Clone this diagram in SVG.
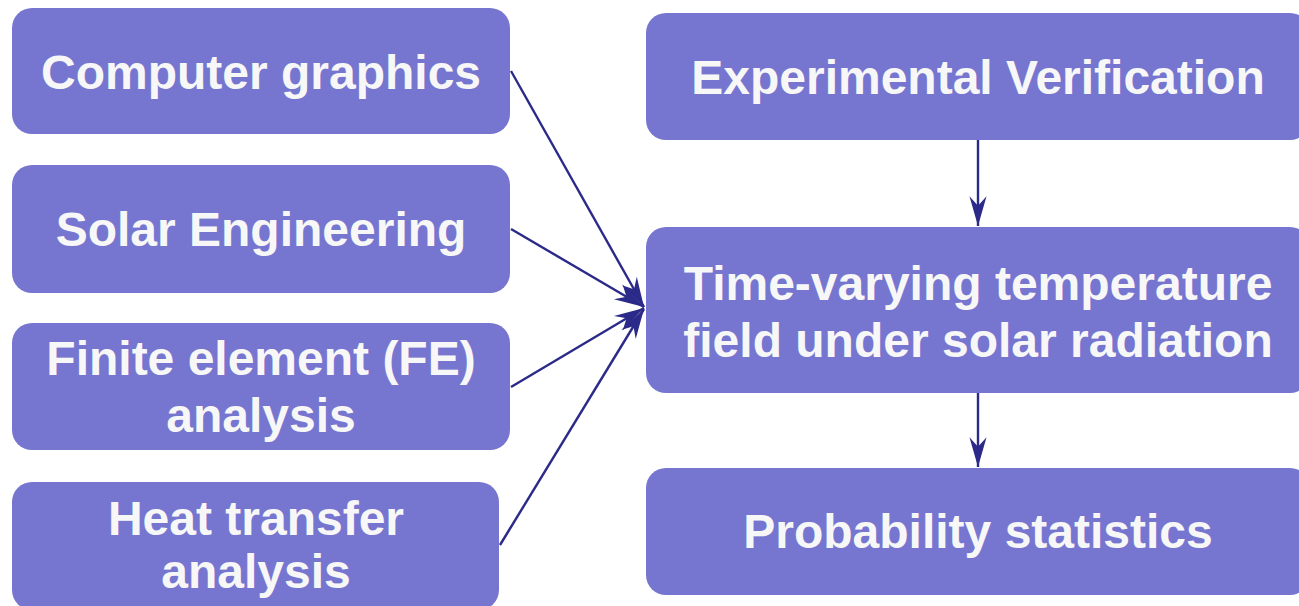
<svg xmlns="http://www.w3.org/2000/svg" width="1299" height="606" viewBox="0 0 1299 606">
  <style>
    .box { fill: #7676D0; }
    .lbl { font-family: "Liberation Sans", Arial, sans-serif; font-weight: bold; font-size: 48px; fill: #F7F7F7; text-anchor: middle; }
    .link { stroke: #2B2A88; stroke-width: 2.4; fill: none; marker-end: url(#head); }
  </style>
  <defs>
    <marker id="head" markerUnits="userSpaceOnUse" markerWidth="32" markerHeight="22" viewBox="-29 -9 30 18" refX="0" refY="0" orient="auto">
      <path d="M0,0 L-28,-8 L-19,0 L-28,8 Z" fill="#2B2A88"/>
    </marker>
  </defs>
  <rect width="1299" height="606" fill="#FFFFFF"/>

  <g id="connectors">
    <line class="link" x1="511" y1="71" x2="644" y2="307"/>
    <line class="link" x1="511" y1="229" x2="644" y2="307"/>
    <line class="link" x1="511" y1="387" x2="644" y2="308"/>
    <line class="link" x1="500" y1="545" x2="644" y2="309"/>
    <line class="link" x1="978" y1="140" x2="978" y2="226"/>
    <line class="link" x1="978" y1="393" x2="978" y2="467"/>
  </g>

  <g id="computer-graphics">
    <rect class="box" x="12" y="8" width="498" height="126" rx="20"/>
    <text class="lbl" x="261" y="89">Computer graphics</text>
  </g>
  <g id="solar-engineering">
    <rect class="box" x="12" y="165" width="498" height="128" rx="20"/>
    <text class="lbl" x="261" y="246">Solar Engineering</text>
  </g>
  <g id="fe-analysis">
    <rect class="box" x="12" y="323" width="498" height="127" rx="20"/>
    <text class="lbl" x="261" y="375">Finite element (FE)</text>
    <text class="lbl" x="261" y="432">analysis</text>
  </g>
  <g id="heat-transfer">
    <rect class="box" x="12" y="482" width="487" height="128" rx="20"/>
    <text class="lbl" x="256" y="535">Heat transfer</text>
    <text class="lbl" x="256" y="588">analysis</text>
  </g>

  <g id="experimental-verification">
    <rect class="box" x="646" y="13" width="664" height="127" rx="20"/>
    <text class="lbl" x="978" y="94">Experimental Verification</text>
  </g>
  <g id="temperature-field">
    <rect class="box" x="646" y="227" width="664" height="166" rx="20"/>
    <text class="lbl" x="978" y="300">Time-varying temperature</text>
    <text class="lbl" x="978" y="357">field under solar radiation</text>
  </g>
  <g id="probability-statistics">
    <rect class="box" x="646" y="468" width="664" height="127" rx="20"/>
    <text class="lbl" x="978" y="548">Probability statistics</text>
  </g>
</svg>
